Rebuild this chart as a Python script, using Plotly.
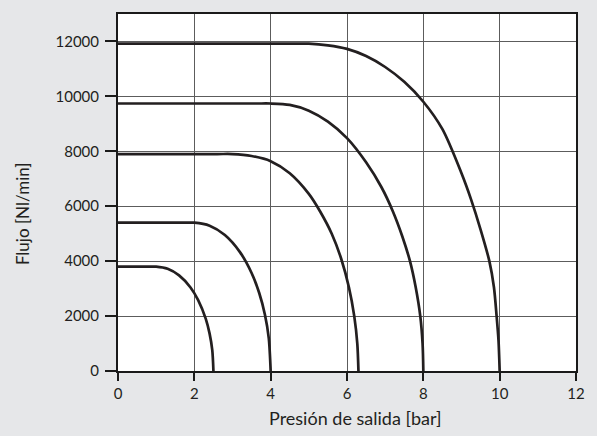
import plotly.graph_objects as go

# Output pressure (bar) vs. flow (Nl/min) for five regulator sizes
p1 = [0, 0.7, 1.0, 1.3, 1.6, 1.9, 2.1, 2.3, 2.4, 2.47, 2.5]
q1 = [3800, 3800, 3800, 3720, 3480, 3040, 2580, 1900, 1360, 760, 0]

p2 = [0, 1.6, 2.0, 2.4, 2.8, 3.2, 3.5, 3.7, 3.85, 3.95, 4.0]
q2 = [5400, 5400, 5400, 5290, 4950, 4320, 3570, 2840, 2050, 1200, 0]

p3 = [0, 2.6, 3.0, 3.5, 4.0, 4.5, 5.0, 5.3, 5.6, 5.85, 6.05, 6.19, 6.27, 6.3]
q3 = [7900, 7900, 7900, 7830, 7640, 7200, 6450, 5800, 5000, 4080, 3050, 2000, 1000, 0]

p4 = [0, 3.6, 4.0, 4.5, 5.0, 5.5, 6.0, 6.5, 6.9, 7.2, 7.45, 7.65, 7.8, 7.92, 7.98, 8.0]
q4 = [9740, 9740, 9740, 9690, 9480, 9080, 8480, 7600, 6700, 5820, 4900, 4000, 3050, 2000, 1000, 0]

p5 = [0, 4.6, 5.0, 5.5, 6.0, 6.5, 7.0, 7.5, 8.0, 8.5, 9.0, 9.25, 9.5, 9.73, 9.85, 9.92, 9.97, 10.0]
q5 = [11920, 11920, 11920, 11860, 11730, 11470, 11070, 10530, 9805, 8805, 7200, 6250, 5150, 4000, 3050, 2000, 1100, 0]

x_ticks = [0, 2, 4, 6, 8, 10, 12]
y_ticks = [0, 2000, 4000, 6000, 8000, 10000, 12000]

x_title = "Presión de salida [bar]"
y_title = "Flujo [Nl/min]"

curve_color = "#231f20"
font_family = "Lato, 'Open Sans', sans-serif"

fig = go.Figure()
for px, qy in [(p1, q1), (p2, q2), (p3, q3), (p4, q4), (p5, q5)]:
    fig.add_trace(go.Scatter(
        x=px, y=qy, mode="lines",
        line=dict(color=curve_color, width=2.7, shape="spline", smoothing=0.8),
        hoverinfo="skip", showlegend=False,
    ))

axis_common = dict(
    showline=True, linecolor="#1a1a1a", linewidth=2, mirror=True,
    showgrid=True, gridcolor="#5c5c5c", gridwidth=1,
    zeroline=False, ticks="outside", tickcolor="#1a1a1a", tickwidth=1.5,
    tickfont=dict(family=font_family, size=15, color="#231f20"),
)

fig.update_xaxes(
    range=[0, 12], tickvals=x_ticks, ticklen=8, **axis_common,
)
fig.update_yaxes(
    range=[0, 13000], tickvals=y_ticks, tickformat="d", ticklen=11,
    ticklabelstandoff=3, **axis_common,
)

fig.add_annotation(
    text=x_title, xref="paper", yref="paper", x=0.5195, y=-0.132,
    xanchor="center", yanchor="middle", showarrow=False,
    font=dict(family=font_family, size=18, color="#231f20"),
)
fig.add_annotation(
    text=y_title, xref="paper", yref="paper", x=-0.207, y=0.44,
    xanchor="center", yanchor="middle", textangle=-90, showarrow=False,
    font=dict(family=font_family, size=17, color="#231f20"),
)

fig.update_layout(
    width=597, height=436,
    margin=dict(l=118, r=16, t=12, b=65),
    paper_bgcolor="#e6e7e9", plot_bgcolor="#ffffff",
)

fig.write_html("out.html")
